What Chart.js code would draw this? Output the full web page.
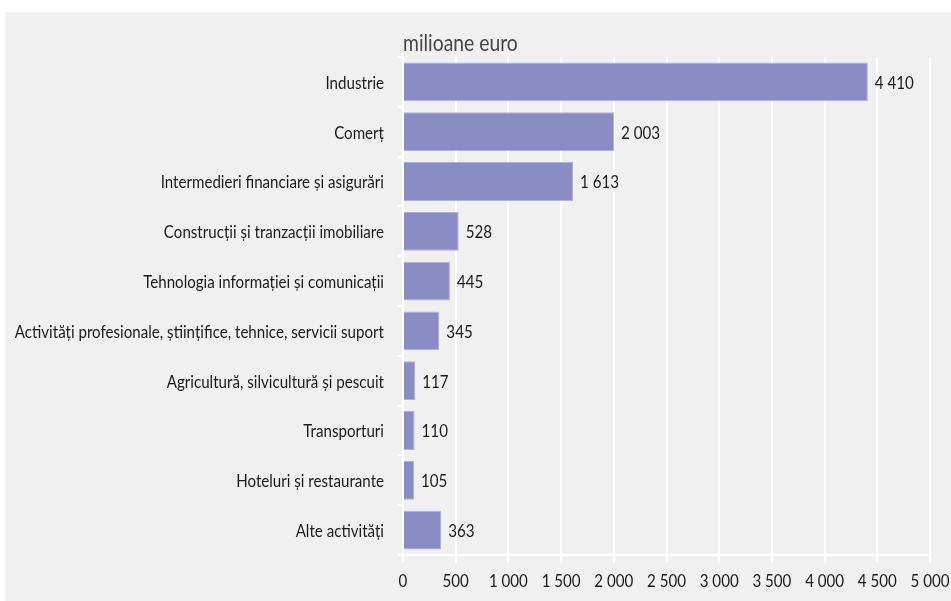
<!DOCTYPE html>
<html>
<head>
<meta charset="utf-8">
<script src="https://cdn.jsdelivr.net/npm/chart.js@4"></script>
<style>
    body { margin: 0; background: #ffffff; }
    #panel { position: absolute; left: 5px; top: 12px; width: 946px; height: 589px; background: #f0f0f0; }
</style>
</head>
<body>
<div id="panel"><canvas id="chart" width="946" height="589"></canvas></div>
<script>
// Data
const categories = [
    'Industrie',
    'Comerț',
    'Intermedieri financiare și asigurări',
    'Construcții și tranzacții imobiliare',
    'Tehnologia informației și comunicații',
    'Activități profesionale, științifice, tehnice, servicii suport',
    'Agricultură, silvicultură și pescuit',
    'Transporturi',
    'Hoteluri și restaurante',
    'Alte activități'
];
const values = [4410, 2003, 1613, 528, 445, 345, 117, 110, 105, 363];
const xTicks = [0, 500, 1000, 1500, 2000, 2500, 3000, 3500, 4000, 4500, 5000];
const unitLabel = 'milioane euro';

const FONT = 'Lato, "DejaVu Sans Condensed", sans-serif';
const SX = 0.84; // horizontal squeeze to mimic a condensed face

function fmt(v) {
    return String(v).replace(/\B(?=(\d{3})+(?!\d))/g, ' ');
}

function squeezed(ctx, text, x, y, align, size, color) {
    ctx.save();
    ctx.translate(x, y);
    ctx.scale(SX, 1);
    ctx.font = size + 'px ' + FONT;
    ctx.fillStyle = color;
    ctx.textAlign = align;
    ctx.textBaseline = 'middle';
    ctx.fillText(text, 0, 0);
    ctx.restore();
}

// all text drawn here (condensed look)
const textPlugin = {
    id: 'texts',
    afterDraw(chart) {
        const ctx = chart.ctx;
        const xs = chart.scales.x;
        const ys = chart.scales.y;
        const meta = chart.getDatasetMeta(0);
        meta.data.forEach((bar, i) => {
            squeezed(ctx, fmt(values[i]), bar.x + 7, bar.y + 1, 'left', 18, '#1a1a1a');
            squeezed(ctx, categories[i], ys.right - 19, ys.getPixelForTick(i) + 1, 'right', 18, '#1a1a1a');
        });
        xTicks.forEach(v => {
            squeezed(ctx, fmt(v), xs.getPixelForValue(v), xs.top + 26, 'center', 18, '#1a1a1a');
        });
        squeezed(ctx, unitLabel, chart.chartArea.left, chart.chartArea.top - 13, 'left', 23, '#444444');
    }
};

new Chart(document.getElementById('chart'), {
    type: 'bar',
    data: {
        labels: categories,
        datasets: [{
            data: values,
            backgroundColor: '#8a8cc3',
            borderColor: '#aeb0d9',
            borderWidth: 1,
            barPercentage: 0.78,
            categoryPercentage: 1
        }]
    },
    options: {
        indexAxis: 'y',
        responsive: false,
        animation: false,
        events: [],
        layout: { padding: { top: 45, right: 21, bottom: 10, left: 0 } },
        plugins: {
            legend: { display: false },
            tooltip: { enabled: false }
        },
        scales: {
            x: {
                min: 0,
                max: 5000,
                afterBuildTicks(axis) {
                    axis.ticks = xTicks.map(v => ({ value: v }));
                },
                afterFit(axis) { axis.height = 36; },
                grid: { color: '#ffffff', lineWidth: 2, tickLength: 8 },
                border: { color: '#ffffff', width: 2 },
                ticks: { color: 'rgba(0,0,0,0)', maxRotation: 0 }
            },
            y: {
                afterFit(axis) { axis.width = 398; },
                grid: { color: '#ffffff', lineWidth: 2, tickLength: 5, drawOnChartArea: false },
                border: { display: false },
                ticks: { color: 'rgba(0,0,0,0)' }
            }
        }
    },
    plugins: [textPlugin]
});
</script>
</body>
</html>
